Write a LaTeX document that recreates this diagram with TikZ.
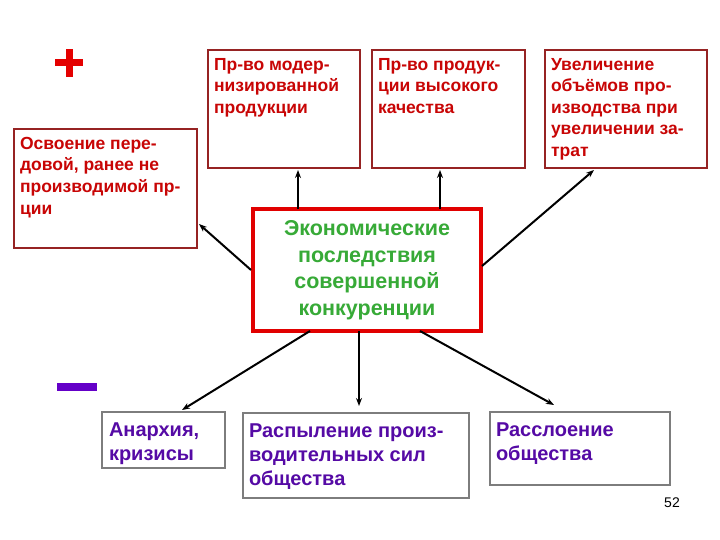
\documentclass[tikz,border=0pt]{standalone}
\usepackage{fontspec}
\setmainfont{Liberation Sans}
\usetikzlibrary{arrows.meta,calc}
\definecolor{txtred}{RGB}{200,5,5}
\definecolor{boxred}{RGB}{150,35,35}
\definecolor{ecogreen}{RGB}{55,170,55}
\definecolor{purp}{RGB}{85,10,165}
\definecolor{minuspurp}{RGB}{100,0,200}
\definecolor{plusred}{RGB}{228,0,0}
\definecolor{bordergray}{RGB}{125,125,125}
\definecolor{midred}{RGB}{225,0,0}
\tikzset{
  topbox/.style={draw=boxred, line width=2pt, inner xsep=6pt, inner ysep=6pt, anchor=north west,
    text=txtred, font=\bfseries\fontsize{17.5}{21.6}\selectfont},
  botbox/.style={draw=bordergray, line width=2pt, inner xsep=6pt, inner ysep=6pt, anchor=north west,
    text=purp, font=\bfseries\fontsize{20}{23.8}\selectfont},
  midbox/.style={draw=midred, line width=4pt, inner sep=0pt, anchor=north west,
    text=ecogreen, font=\bfseries\fontsize{21.5}{26.5}\selectfont},
  arr/.style={draw=black, line width=2pt, -{Stealth[length=8pt,width=6pt]}}
}
\begin{document}
\begin{tikzpicture}[x=1pt,y=-1pt]
\useasboundingbox[fill=white] (0,0) rectangle (720,540);
% plus and minus
\node[inner sep=0pt] (plus) at (69,63) {\tikz{\fill[plusred] (-14,-3.5) rectangle (14,3.5); \fill[plusred] (-3.5,-14) rectangle (3.5,14);}};
\node[inner sep=0pt] (minus) at (77,387) {\tikz{\fill[minuspurp] (-20,-4) rectangle (20,4);}};
% top boxes
\node[topbox] (b1) at (13,128) {\begin{minipage}[t][107pt][t]{171pt}\vspace*{2pt}Освоение пере-\\довой, ранее не\\производимой пр-\\ции\end{minipage}};
\node[topbox] (b2) at (207,49) {\begin{minipage}[t][106pt][t]{140pt}\vspace*{2pt}Пр-во модер-\\низированной\\продукции\end{minipage}};
\node[topbox] (b3) at (371,49) {\begin{minipage}[t][106pt][t]{141pt}\vspace*{2pt}Пр-во продук-\\ции высокого\\качества\end{minipage}};
\node[topbox] (b4) at (544,49) {\begin{minipage}[t][106pt][t]{150pt}\vspace*{2pt}Увеличение\\объёмов про-\\изводства при\\увеличении за-\\трат\end{minipage}};
% central box
\node[midbox] (c) at (251,207) {\begin{minipage}[c][122pt][c]{228pt}\centering Экономические\\последствия\\совершенной\\конкуренции\end{minipage}};
% bottom boxes
\node[botbox] (b5) at (101,411) {\begin{minipage}[t][44pt][t]{111pt}\vspace*{5pt}\hspace*{1pt}Анархия,\\\hspace*{1pt}кризисы\end{minipage}};
\node[botbox] (b6) at (242,412) {\begin{minipage}[t][73pt][t]{214pt}\vspace*{5pt}Распыление произ-\\водительных сил\\общества\end{minipage}};
\node[botbox] (b7) at (489,411) {\begin{minipage}[t][61pt][t]{168pt}\vspace*{5pt}Расслоение\\общества\end{minipage}};
\node[font=\fontsize{14}{16}\selectfont, inner sep=0pt] (num) at (672,503) {52};
% connectors
\draw[arr] ($(c.north west)+(47,2)$) -- ($(b2.south west)+(91,1)$);
\draw[arr] ($(c.north west)+(189,2)$) -- ($(b3.south west)+(69,1)$);
\draw[arr] ($(c.north east)+(-1,59)$) -- ($(b4.south west)+(50,1)$);
\draw[arr] ($(c.north west)+(0,63)$) -- ($(b1.north east)+(1,96)$);
\draw[arr] ($(c.south west)+(59,-2)$) -- ($(b5.north west)+(81,-1)$);
\draw[arr] ($(c.south west)+(108,-2)$) -- ($(b6.north west)+(117,-6)$);
\draw[arr] ($(c.south west)+(169,-2)$) -- ($(b7.north west)+(65,-6)$);
\end{tikzpicture}
\end{document}
